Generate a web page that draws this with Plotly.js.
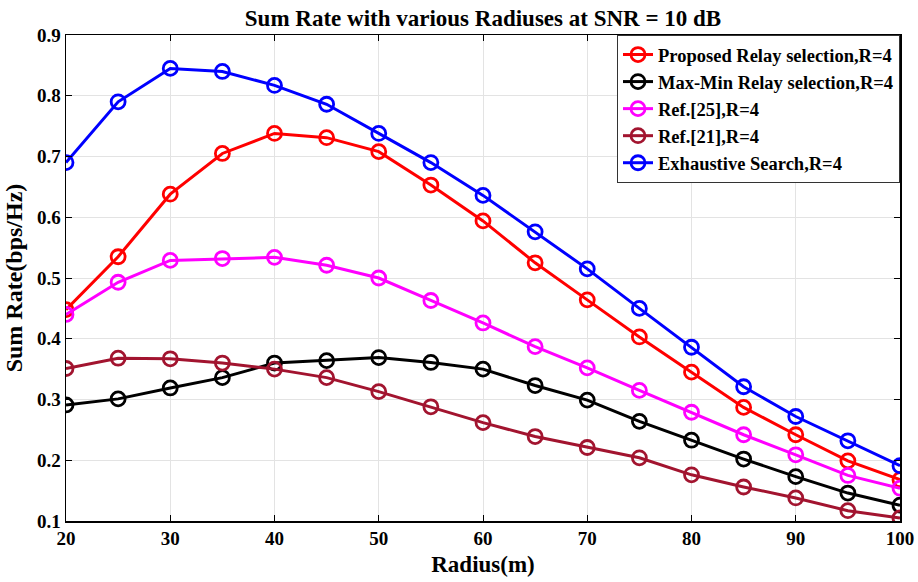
<!DOCTYPE html>
<html>
<head>
<meta charset="utf-8">
<script src="https://cdn.plot.ly/plotly-3.0.1.min.js"></script>
<style>html,body{margin:0;padding:0;background:#fff;}#chart{width:918px;height:582px;}</style>
</head>
<body>
<div id="chart"></div>
<script>
const radius = [20,25,30,35,40,45,50,55,60,65,70,75,80,85,90,95,100];
const proposed = [0.448,0.535,0.638,0.705,0.738,0.731,0.708,0.653,0.594,0.525,0.464,0.403,0.345,0.287,0.242,0.199,0.168];
const maxMin = [0.291,0.301,0.319,0.336,0.360,0.364,0.369,0.361,0.350,0.323,0.299,0.264,0.233,0.202,0.173,0.146,0.126];
const ref25 = [0.440,0.493,0.529,0.532,0.534,0.521,0.500,0.463,0.426,0.387,0.352,0.315,0.279,0.242,0.209,0.175,0.154];
const ref21 = [0.351,0.368,0.367,0.360,0.350,0.336,0.313,0.288,0.262,0.239,0.221,0.204,0.176,0.156,0.138,0.117,0.105];
const exhaustive = [0.690,0.790,0.845,0.840,0.817,0.786,0.738,0.690,0.636,0.576,0.515,0.450,0.386,0.321,0.272,0.232,0.191];
const names = ['Proposed Relay selection,R=4','Max-Min Relay selection,R=4','Ref.[25],R=4','Ref.[21],R=4','Exhaustive Search,R=4'];
const colors = ['#ff0000','#000000','#ff00ff','#a2142f','#0000ff'];
const series = [proposed, maxMin, ref25, ref21, exhaustive];

const traces = series.map((ys,i)=>({
  x: radius, y: ys, name: names[i], type:'scatter', mode:'lines+markers',
  line:{color:colors[i], width:3},
  marker:{symbol:'circle-open', size:14, color:colors[i], line:{width:2.8, color:colors[i]}}
}));

const font = 'Liberation Serif, Times New Roman, serif';
const xt = [20,30,40,50,60,70,80,90,100];
const yt = [0.1,0.2,0.3,0.4,0.5,0.6,0.7,0.8,0.9];
const layout = {
  width:918, height:582,
  margin:{l:66, r:18, t:35, b:61},
  paper_bgcolor:'#fff', plot_bgcolor:'#fff',
  font:{family:font, color:'#000', weight:'bold'},
  title:{text:'Sum Rate with various Radiuses at SNR = 10 dB', font:{family:font, size:23, color:'#000', weight:'bold'}, xref:'paper', x:0.5, xanchor:'center', y:0.983, yanchor:'top'},
  xaxis:{
    range:[20,100], tickvals:xt, ticktext:xt.map(v=>String(v)),
    tickfont:{family:font, size:19, color:'#000', weight:'bold'},
    title:{text:'Radius(m)', font:{family:font, size:23, color:'#000', weight:'bold'}, standoff:7},
    showgrid:true, gridcolor:'#e3e3e3', gridwidth:1,
    showline:true, linecolor:'#000', linewidth:1.5, mirror:'ticks',
    ticks:'inside', ticklen:6, tickcolor:'#000', zeroline:false
  },
  yaxis:{
    range:[0.1,0.9], tickvals:yt, ticktext:yt.map(v=>v.toFixed(1)),
    tickfont:{family:font, size:19, color:'#000', weight:'bold'},
    title:{text:'Sum Rate(bps/Hz)', font:{family:font, size:24, color:'#000', weight:'bold'}, standoff:7},
    showgrid:true, gridcolor:'#e3e3e3', gridwidth:1,
    showline:true, linecolor:'#000', linewidth:1.5, mirror:'ticks',
    ticks:'inside', ticklen:6, tickcolor:'#000', zeroline:false
  },
  legend:{
    x:1, xanchor:'right', y:1, yanchor:'top',
    bgcolor:'#fff', bordercolor:'#333', borderwidth:1,
    font:{family:font, size:18.5, color:'#000', weight:'bold'},
    tracegroupgap:0
  },
  showlegend:true
};
Plotly.newPlot('chart', traces, layout, {displayModeBar:false, staticPlot:true});
</script>
</body>
</html>
